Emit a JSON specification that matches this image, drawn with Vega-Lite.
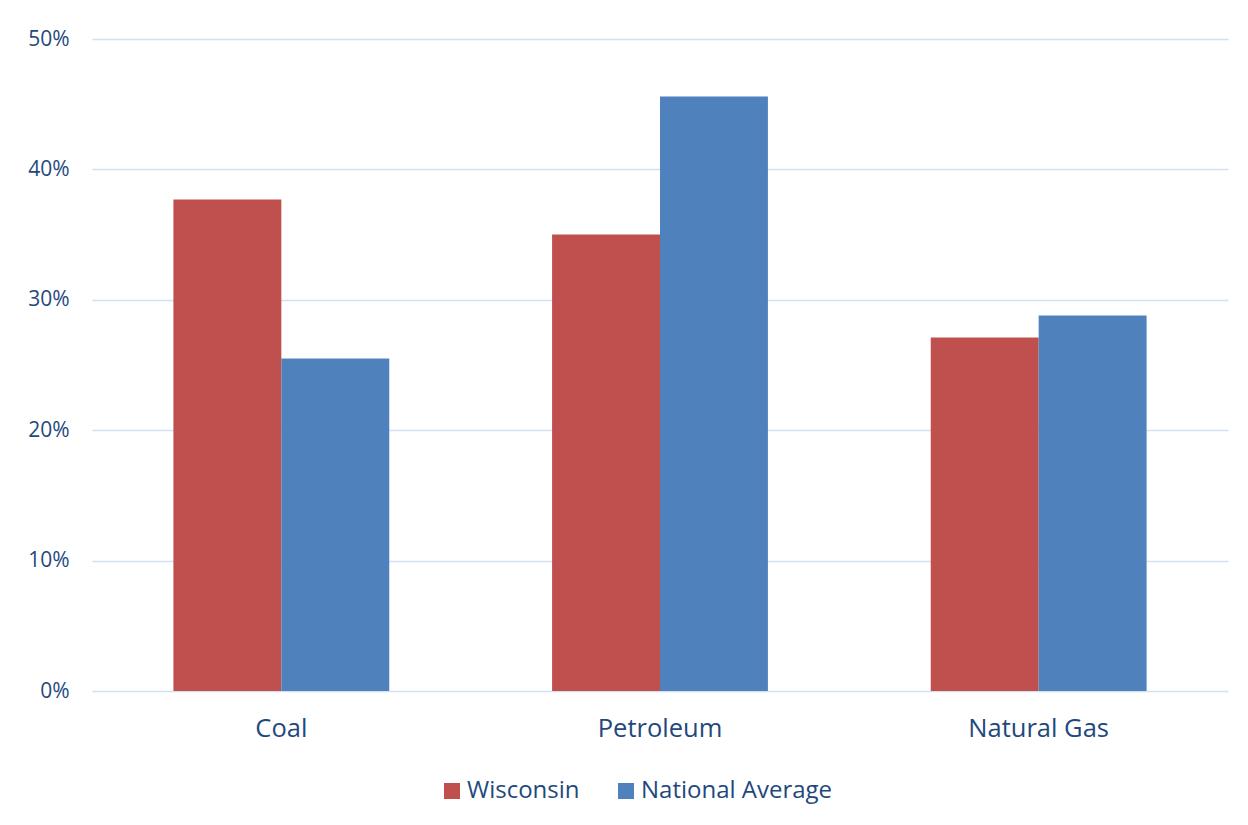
{
  "$schema": "https://vega.github.io/schema/vega-lite/v6.json",
  "autosize": "none",
  "width": 1136,
  "height": 652,
  "padding": {"left": 92, "top": 39, "right": 20, "bottom": 134},
  "background": "white",
  "data": {
    "values": [
      {"source": "Coal", "series": "Wisconsin", "share": 0.377},
      {"source": "Coal", "series": "National Average", "share": 0.255},
      {"source": "Petroleum", "series": "Wisconsin", "share": 0.350},
      {"source": "Petroleum", "series": "National Average", "share": 0.456},
      {"source": "Natural Gas", "series": "Wisconsin", "share": 0.271},
      {"source": "Natural Gas", "series": "National Average", "share": 0.288}
    ]
  },
  "mark": {"type": "bar"},
  "encoding": {
    "x": {
      "field": "source",
      "type": "nominal",
      "sort": ["Coal", "Petroleum", "Natural Gas"],
      "scale": {"paddingInner": 0.43, "paddingOuter": 0.215},
      "axis": {
        "title": null,
        "domain": false,
        "ticks": false,
        "labelAngle": 0,
        "labelFontSize": 25.5,
        "labelPadding": 25,
        "labelFont": "Open Sans",
        "labelColor": "#1F497D"
      }
    },
    "xOffset": {
      "field": "series",
      "type": "nominal",
      "sort": ["Wisconsin", "National Average"],
      "scale": {"paddingInner": 0, "paddingOuter": 0}
    },
    "y": {
      "field": "share",
      "type": "quantitative",
      "scale": {"domain": [0, 0.5]},
      "axis": {
        "title": null,
        "format": ".0%",
        "values": [0, 0.1, 0.2, 0.3, 0.4, 0.5],
        "domain": false,
        "ticks": false,
        "labelFontSize": 21,
        "labelFont": "Open Sans",
        "labelColor": "#1F497D",
        "labelPadding": 23,
        "gridColor": "#D3E0F1",
        "gridWidth": 1.6
      }
    },
    "color": {
      "field": "series",
      "type": "nominal",
      "sort": ["Wisconsin", "National Average"],
      "scale": {"domain": ["Wisconsin", "National Average"], "range": ["#C0504D", "#4F81BD"]},
      "legend": {
        "title": null,
        "orient": "none",
        "direction": "horizontal",
        "legendX": 348,
        "legendY": 740,
        "symbolType": "square",
        "symbolSize": 256,
        "symbolStrokeWidth": 0,
        "symbolOpacity": 1,
        "labelFontSize": 24,
        "labelFont": "Open Sans",
        "labelColor": "#1F497D",
        "labelOffset": 3,
        "labelLimit": 0,
        "columnPadding": 34
      }
    }
  },
  "config": {
    "view": {"stroke": null},
    "axis": {"labelFont": "Open Sans"}
  }
}
